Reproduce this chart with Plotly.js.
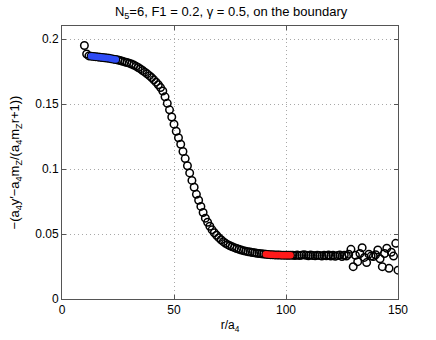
<!DOCTYPE html>
<html>
<head>
<meta charset="utf-8">
<script src="https://cdn.plot.ly/plotly-3.0.1.min.js"></script>
<style>
  html, body { margin: 0; padding: 0; background: #fff; }
  #chart { width: 436px; height: 340px; }
</style>
</head>
<body>
<div id="chart"></div>
<script>
// r/a4 sample positions
var rVals = [
  10, 11, 12, 13, 14, 15, 16, 17, 18, 19, 20, 21, 22, 23, 24, 25, 26, 27, 28, 29,
  30, 31, 32, 33, 34, 35, 36, 37, 38, 39, 40, 41, 42, 43, 44, 45, 46, 47, 48, 49,
  50, 51, 52, 53, 54, 55, 56, 57, 58, 59, 60, 61, 62, 63, 64, 65, 66, 67, 68, 69,
  70, 71, 72, 73, 74, 75, 76, 77, 78, 79, 80, 81, 82, 83, 84, 85, 86, 87, 88, 89,
  90, 91, 92, 93, 94, 95, 96, 97, 98, 99, 100, 101, 102, 103, 104, 105, 106, 107, 108, 109,
  110, 111, 112, 113, 114, 115, 116, 117, 118, 119, 120, 121, 122, 123, 124, 125, 126, 127, 128, 129,
  130, 131, 132, 133, 134, 135, 136, 137, 138, 139, 140, 141, 142, 143, 144, 145, 146, 147, 148, 149,
  150
];

// measured quantity at each r/a4
var yVals = [
  0.1950, 0.1885, 0.1870, 0.1868, 0.1866, 0.1864, 0.1862, 0.1860, 0.1858, 0.1856,
  0.1854, 0.1851, 0.1848, 0.1845, 0.1842, 0.1838, 0.1834, 0.1829, 0.1824, 0.1819,
  0.1814, 0.1808, 0.1800, 0.1791, 0.1781, 0.1770, 0.1758, 0.1745, 0.1732, 0.1718,
  0.1703, 0.1686, 0.1668, 0.1648, 0.1626, 0.1600, 0.1555, 0.1505, 0.1455, 0.1400,
  0.1345, 0.1290, 0.1240, 0.1190, 0.1135, 0.1080, 0.1025, 0.0970, 0.0912, 0.0860,
  0.0805, 0.0760, 0.0712, 0.0665, 0.0622, 0.0590, 0.0560, 0.0532, 0.0510, 0.0490,
  0.0472, 0.0456, 0.0441, 0.0428, 0.0418, 0.0410, 0.0402, 0.0395, 0.0388, 0.0382,
  0.0377, 0.0372, 0.0368, 0.0364, 0.0361, 0.0358, 0.0355, 0.0352, 0.0350, 0.0348,
  0.0346, 0.0344, 0.0342, 0.0341, 0.0340, 0.0339, 0.0338, 0.0338, 0.0337, 0.0337,
  0.0336, 0.0336, 0.0336, 0.0337, 0.0335, 0.0338, 0.0334, 0.0337, 0.0340, 0.0336,
  0.0333, 0.0338, 0.0335, 0.0332, 0.0337, 0.0334, 0.0330, 0.0336, 0.0333, 0.0338,
  0.0331, 0.0336, 0.0329, 0.0334, 0.0338, 0.0327, 0.0336, 0.0330, 0.0345, 0.0382,
  0.0249, 0.0336, 0.0287, 0.0350, 0.0395, 0.0320, 0.0280, 0.0345, 0.0330, 0.0326,
  0.0340, 0.0377, 0.0310, 0.0249, 0.0350, 0.0390, 0.0236, 0.0360, 0.0330, 0.0428,
  0.0222
];

// highlighted fit windows
var blueR = [13, 14, 15, 16, 17, 18, 19, 20, 21, 22, 23, 24];
var blueY = [0.1868, 0.1866, 0.1864, 0.1862, 0.1860, 0.1858, 0.1856, 0.1854, 0.1851, 0.1848, 0.1845, 0.1842];
var redR = [91, 92, 93, 94, 95, 96, 97, 98, 99, 100, 101, 102];
var redY = [0.0344, 0.0342, 0.0341, 0.0340, 0.0339, 0.0338, 0.0338, 0.0337, 0.0337, 0.0336, 0.0336, 0.0336];

var xTicks = [0, 50, 100, 150];
var yTicks = [0, 0.05, 0.1, 0.15, 0.2];
var yTickText = ["0", "0.05", "0.1", "0.15", "0.2"];

var traces = [
  {
    x: rVals, y: yVals, type: "scatter", mode: "markers",
    marker: { symbol: "circle-open", size: 7.5, color: "#000", line: { width: 1.5 } },
    hoverinfo: "x+y"
  },
  {
    x: blueR, y: blueY, type: "scatter", mode: "markers",
    marker: { symbol: "circle", size: 6.5, color: "#2f4cf5", line: { width: 0 } }
  },
  {
    x: redR, y: redY, type: "scatter", mode: "markers",
    marker: { symbol: "circle", size: 6.5, color: "#ff1a1a", line: { width: 0 } }
  }
];

var axisCommon = {
  showline: true, mirror: "ticks", linecolor: "#555", linewidth: 1,
  ticks: "inside", ticklen: 4, tickcolor: "#555",
  showgrid: true, gridcolor: "#a8a8a8", griddash: "1px,3px", gridwidth: 1,
  zeroline: false,
  tickfont: { family: "Liberation Sans, Arial, sans-serif", size: 12, color: "#000" }
};

var layout = {
  width: 436, height: 340,
  margin: { l: 62, r: 38, t: 26, b: 41 },
  paper_bgcolor: "#fff", plot_bgcolor: "#fff",
  showlegend: false,
  font: { family: "Liberation Sans, Arial, sans-serif", size: 12, color: "#000" },
  title: {
    text: "N<sub>5</sub>=6, F1 = 0.2, γ = 0.5, on the boundary",
    font: { size: 13, color: "#000" },
    x: 0.53, xanchor: "center", y: 0.98, yanchor: "top"
  },
  xaxis: Object.assign({}, axisCommon, {
    range: [0, 150], tickvals: xTicks,
    title: { text: "r/a<sub>4</sub>", standoff: 4, font: { size: 12, color: "#000" } }
  }),
  yaxis: Object.assign({}, axisCommon, {
    range: [0, 0.21], tickvals: yTicks, ticktext: yTickText,
    title: {
      text: "−(a<sub>4</sub>y′−a<sub>4</sub>m<sub>Z</sub>/(a<sub>4</sub>m<sub>Z</sub>r+1))",
      standoff: 12, font: { size: 13, color: "#000" }
    }
  })
};

Plotly.newPlot("chart", traces, layout, { displayModeBar: false, staticPlot: true });
</script>
</body>
</html>
